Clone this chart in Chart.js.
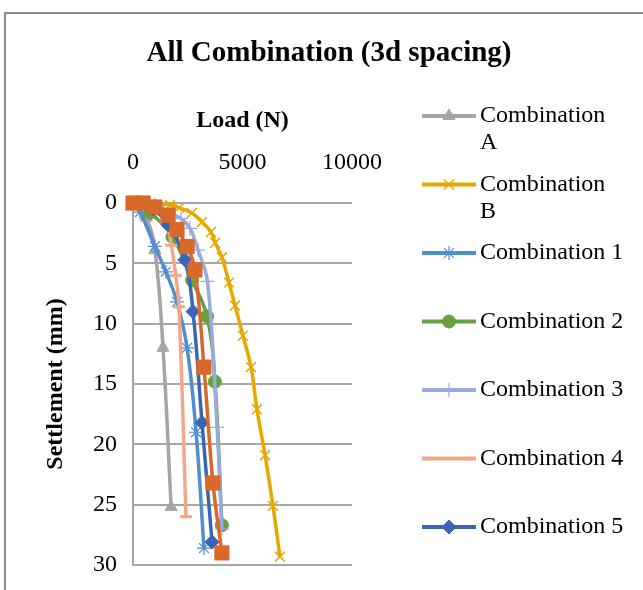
<!DOCTYPE html>
<html>
<head>
<meta charset="utf-8">
<script src="https://cdn.jsdelivr.net/npm/chart.js@4.4.0/dist/chart.umd.min.js"></script>
<style>
  html, body { margin: 0; padding: 0; background: #fff; overflow: hidden; }
  #wrap { position: relative; width: 643px; height: 590px; }
  #frame { position: absolute; left: 4px; top: 12px; width: 700px; height: 700px; border: 2px solid #8c8c8c; box-sizing: border-box; }
  canvas { position: absolute; left: 0; top: 0; }
</style>
</head>
<body>
<div id="wrap">
  <div id="frame"></div>
  <canvas id="chart" width="643" height="590"></canvas>
</div>
<script>
// --- DATA (load in N, settlement in mm) ---
const seriesNames = ['Combination A', 'Combination B', 'Combination 1', 'Combination 2',
                     'Combination 3', 'Combination 4', 'Combination 5', 'Combination 6'];

const loadA = [0, 600, 1000, 1370, 1740];
const settleA = [0, 1.2, 3.9, 12.0, 25.2];

const loadB = [0, 800, 1690, 2100, 2690, 3150, 3560, 3750, 4060, 4380, 4660, 5020, 5390, 5660, 6030, 6390, 6710];
const settleB = [0, 0.05, 0.17, 0.4, 0.83, 1.57, 2.4, 3.3, 4.5, 6.6, 8.5, 11.0, 13.6, 17.1, 20.9, 25.1, 29.3];

const load1 = [0, 320, 1000, 1500, 2010, 2470, 2880, 3240];
const settle1 = [0, 0.75, 3.6, 5.7, 8.2, 12.0, 19.0, 28.6];

const load2 = [0, 780, 1800, 2700, 3380, 3740, 4060];
const settle2 = [0, 0.8, 2.8, 6.4, 9.4, 14.8, 26.7];

const load3 = [0, 1100, 2200, 2600, 2970, 3400, 3840, 4060];
const settle3 = [0, 0.3, 1.3, 2.1, 3.9, 6.5, 18.6, 27.0];

const load4 = [0, 800, 1500, 1750, 1950, 2100, 2420];
const settle4 = [0, 0.3, 1.5, 3.5, 6.0, 8.6, 26.0];

const load5 = [0, 900, 1600, 2370, 2740, 3150, 3610];
const settle5 = [0, 0.5, 1.8, 4.7, 9.0, 18.2, 28.1];

const load6 = [0, 460, 1000, 1600, 2010, 2470, 2830, 3240, 3650, 4060];
const settle6 = [0, 0, 0.33, 1.0, 2.2, 3.6, 5.55, 13.6, 23.2, 29.0];

const loadTicks = [0, 5000, 10000];
const settleTicks = [0, 5, 10, 15, 20, 25, 30];

const serif = "'Liberation Serif', 'Times New Roman', serif";

function pts(xs, ys) {
    return xs.map((x, i) => ({ x: x, y: ys[i] }));
}

// style per series: colour, marker, marker radius, marker line width
const styles = [
    { c: '#a5a5a5', p: 'triangle', r: 7, w: 1 },
    { c: '#e6a800', p: 'crossRot', r: 7, w: 1.5 },
    { c: '#4f8fcc', p: 'star', r: 7, w: 1.2 },
    { c: '#66a040', p: 'circle', r: 6.5, w: 1 },
    { c: '#98aade', p: 'cross', r: 7, w: 1.2 },
    { c: '#f3a78a', p: 'line', r: 6, w: 3 },
    { c: '#3a64b4', p: 'rectRot', r: 7, w: 1 },
    { c: '#d9692b', p: 'rect', r: 10, w: 1 }
];

const allData = [
    pts(loadA, settleA), pts(loadB, settleB), pts(load1, settle1), pts(load2, settle2),
    pts(load3, settle3), pts(load4, settle4), pts(load5, settle5), pts(load6, settle6)
];

const datasets = allData.map((d, i) => ({
    label: seriesNames[i],
    data: d,
    borderColor: styles[i].c,
    backgroundColor: styles[i].c,
    borderWidth: 3.5,
    tension: 0.4,
    pointStyle: styles[i].p,
    pointRadius: styles[i].r,
    pointBorderWidth: styles[i].w,
    pointBackgroundColor: styles[i].c,
    pointBorderColor: styles[i].c,
    clip: false,
    order: allData.length - i   // later series drawn on top
}));

// --- TITLE + SIDE LEGEND ---
function wrapText(ctx, text, maxW) {
    if (ctx.measureText(text).width <= maxW) return [text];
    const k = text.lastIndexOf(' ');
    return [text.slice(0, k), text.slice(k + 1)];
}

const decorPlugin = {
    id: 'decor',
    afterDraw(chart) {
        const ctx = chart.ctx;
        const area = chart.chartArea;
        ctx.save();
        // chart title
        ctx.fillStyle = '#000';
        ctx.font = 'bold 29px ' + serif;
        ctx.textAlign = 'center';
        ctx.textBaseline = 'alphabetic';
        ctx.fillText('All Combination (3d spacing)', 329, 61);

        // legend (entries that do not fit the frame are cut off, as in the source)
        ctx.font = '24px ' + serif;
        ctx.textAlign = 'left';
        ctx.textBaseline = 'middle';
        const x0 = area.right + 70;
        let y = 116;
        chart.data.datasets.forEach(ds => {
            if (y + 14 > chart.height) return;
            ctx.strokeStyle = ds.borderColor;
            ctx.lineWidth = 4;
            ctx.beginPath();
            ctx.moveTo(x0, y);
            ctx.lineTo(x0 + 54, y);
            ctx.stroke();
            ctx.fillStyle = ds.pointBackgroundColor;
            ctx.strokeStyle = ds.pointBorderColor;
            ctx.lineWidth = ds.pointBorderWidth;
            Chart.helpers.drawPoint(ctx, {
                pointStyle: ds.pointStyle, radius: ds.pointRadius,
                borderWidth: ds.pointBorderWidth, rotation: 0
            }, x0 + 27, y);
            ctx.fillStyle = '#000';
            wrapText(ctx, ds.label, 145).forEach((t, j) => ctx.fillText(t, x0 + 58, y + j * 27));
            y += 68.5;
        });
        ctx.restore();
    }
};

new Chart(document.getElementById('chart'), {
    type: 'line',
    data: { datasets: datasets },
    plugins: [decorPlugin],
    options: {
        responsive: false,
        animation: false,
        layout: { padding: { left: 30, top: 100, right: 291, bottom: 25 } },
        plugins: {
            legend: { display: false },
            tooltip: { enabled: false },
            title: { display: false }
        },
        scales: {
            x: {
                type: 'linear',
                position: 'top',
                min: loadTicks[0],
                max: loadTicks[loadTicks.length - 1],
                afterBuildTicks: s => { s.ticks = loadTicks.map(v => ({ value: v })); },
                ticks: {
                    padding: 26, maxRotation: 0, color: '#000',
                    font: { family: serif, size: 24 },
                    callback: v => String(v)
                },
                grid: { display: false, drawTicks: false },
                border: { display: false },
                title: {
                    display: true, text: 'Load (N)', color: '#000',
                    font: { family: serif, size: 24, weight: 'bold' },
                    padding: { top: 6, bottom: 0 }
                },
                afterFit: s => { s.height = 103; s.paddingLeft = 0; s.paddingRight = 0; }
            },
            y: {
                type: 'linear',
                reverse: true,
                min: settleTicks[0],
                max: settleTicks[settleTicks.length - 1],
                afterBuildTicks: s => { s.ticks = settleTicks.map(v => ({ value: v })); },
                ticks: {
                    padding: 16, color: '#000',
                    font: { family: serif, size: 24 },
                    callback: v => String(v)
                },
                grid: { color: '#a6a6a6', lineWidth: 2, drawTicks: false },
                border: { display: true, color: '#a6a6a6', width: 2 },
                title: {
                    display: true, text: 'Settlement (mm)', color: '#000',
                    font: { family: serif, size: 24, weight: 'bold' },
                    padding: { top: 11, bottom: 0 }
                },
                afterFit: s => { s.width = 103; s.paddingTop = 0; s.paddingBottom = 0; }
            }
        }
    }
});
</script>
</body>
</html>
